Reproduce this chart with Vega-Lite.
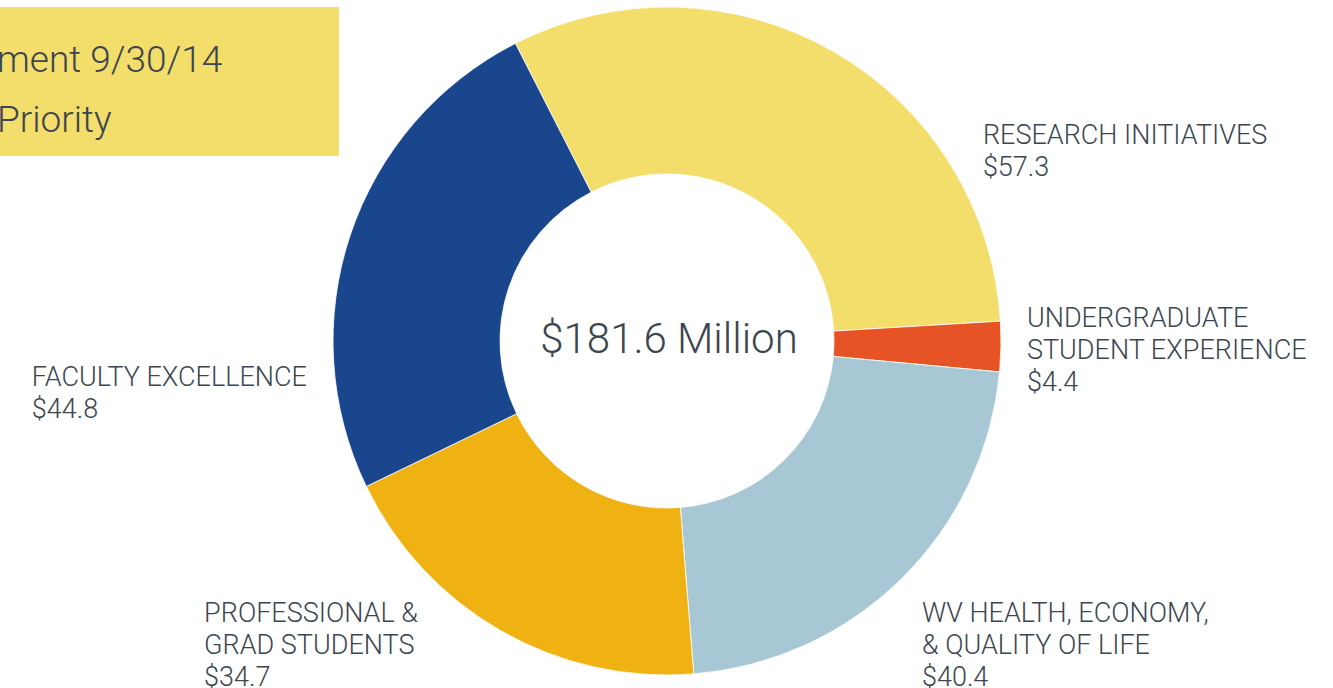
{
  "$schema": "https://vega.github.io/schema/vega-lite/v6.json",
  "padding": {"left": 0, "top": 5, "right": 0, "bottom": 0},
  "spacing": 0,
  "bounds": "flush",
  "config": {
    "view": {"stroke": null},
    "text": {"font": "Roboto", "fontWeight": 300, "color": "#3C4650"}
  },
  "datasets": {
    "priorities": [
      {"priority": "RESEARCH INITIATIVES", "label": "RESEARCH INITIATIVES", "amount": 57.3, "order": 1},
      {"priority": "UNDERGRADUATE STUDENT EXPERIENCE", "label": "UNDERGRADUATE\nSTUDENT EXPERIENCE", "amount": 4.4, "order": 2},
      {"priority": "WV HEALTH, ECONOMY, & QUALITY OF LIFE", "label": "WV HEALTH, ECONOMY,\n& QUALITY OF LIFE", "amount": 40.4, "order": 3},
      {"priority": "PROFESSIONAL & GRAD STUDENTS", "label": "PROFESSIONAL &\nGRAD STUDENTS", "amount": 34.7, "order": 4},
      {"priority": "FACULTY EXCELLENCE", "label": "FACULTY EXCELLENCE", "amount": 44.8, "order": 5}
    ],
    "banner": [
      {"line": "ment 9/30/14"},
      {"line": "Priority"}
    ]
  },
  "hconcat": [
    {
      "width": 339,
      "height": 149,
      "view": {"fill": "#F3DD6B", "stroke": null},
      "data": {"name": "banner"},
      "mark": {"type": "text", "align": "left", "baseline": "alphabetic", "fontSize": 37, "dx": -3, "clip": true},
      "encoding": {
        "x": {"value": 0},
        "y": {"field": "line", "type": "nominal", "sort": ["ment 9/30/14", "Priority"], "scale": {"type": "point", "range": [65, 125], "padding": 0}, "axis": null},
        "text": {"field": "line"}
      }
    },
    {
      "width": 656,
      "height": 668,
      "data": {"name": "priorities"},
      "transform": [
        {"window": [{"op": "sum", "field": "amount", "as": "cum"}], "sort": [{"field": "order"}], "frame": [null, 0]},
        {"calculate": "datum.cum - datum.amount / 2", "as": "mid"},
        {"calculate": "datum.label + '\\n$' + format(datum.amount, '.1f')", "as": "txt"}
      ],
      "layer": [
        {
          "mark": {"type": "arc", "outerRadius": 334, "innerRadius": 167, "stroke": "#ffffff", "strokeWidth": 0.8},
          "encoding": {
            "theta": {"field": "amount", "type": "quantitative", "stack": true, "scale": {"range": [-0.4712, 5.812]}},
            "order": {"field": "order", "type": "quantitative"},
            "color": {
              "field": "priority", "type": "nominal", "legend": null,
              "scale": {
                "domain": ["RESEARCH INITIATIVES", "UNDERGRADUATE STUDENT EXPERIENCE", "WV HEALTH, ECONOMY, & QUALITY OF LIFE", "PROFESSIONAL & GRAD STUDENTS", "FACULTY EXCELLENCE"],
                "range": ["#F3DD6B", "#E65425", "#A6C7D3", "#EFB212", "#1A468E"]
              }
            }
          }
        },
        {
          "transform": [
            {"aggregate": [{"op": "sum", "field": "amount", "as": "total"}]},
            {"calculate": "'$' + format(datum.total, '.1f') + ' Million'", "as": "ctext"}
          ],
          "mark": {"type": "text", "align": "center", "baseline": "alphabetic", "fontSize": 42, "dx": 2, "dy": 12},
          "encoding": {"text": {"field": "ctext", "type": "nominal"}}
        },
        {
          "transform": [{"filter": "datum.order == 1"}],
          "mark": {"type": "text", "radius": 360, "align": "left", "baseline": "alphabetic", "fontSize": 27, "lineHeight": 32, "lineBreak": "\n", "dx": 137, "dy": 115},
          "encoding": {"theta": {"field": "mid", "type": "quantitative", "stack": null}, "text": {"field": "txt", "type": "nominal"}}
        },
        {
          "transform": [{"filter": "datum.order == 2"}],
          "mark": {"type": "text", "radius": 360, "align": "left", "baseline": "alphabetic", "fontSize": 27, "lineHeight": 32, "lineBreak": "\n", "dx": 0, "dy": -20},
          "encoding": {"theta": {"field": "mid", "type": "quantitative", "stack": null}, "text": {"field": "txt", "type": "nominal"}}
        },
        {
          "transform": [{"filter": "datum.order == 3"}],
          "mark": {"type": "text", "radius": 360, "align": "left", "baseline": "alphabetic", "fontSize": 27, "lineHeight": 32, "lineBreak": "\n", "dx": 2, "dy": 25},
          "encoding": {"theta": {"field": "mid", "type": "quantitative", "stack": null}, "text": {"field": "txt", "type": "nominal"}}
        },
        {
          "transform": [{"filter": "datum.order == 4"}],
          "mark": {"type": "text", "radius": 360, "align": "left", "baseline": "alphabetic", "fontSize": 27, "lineHeight": 32, "lineBreak": "\n", "dx": -284, "dy": -31},
          "encoding": {"theta": {"field": "mid", "type": "quantitative", "stack": null}, "text": {"field": "txt", "type": "nominal"}}
        },
        {
          "transform": [{"filter": "datum.order == 5"}],
          "mark": {"type": "text", "radius": 360, "align": "left", "baseline": "alphabetic", "fontSize": 27, "lineHeight": 32, "lineBreak": "\n", "dx": -294, "dy": 160},
          "encoding": {"theta": {"field": "mid", "type": "quantitative", "stack": null}, "text": {"field": "txt", "type": "nominal"}}
        }
      ]
    }
  ]
}
